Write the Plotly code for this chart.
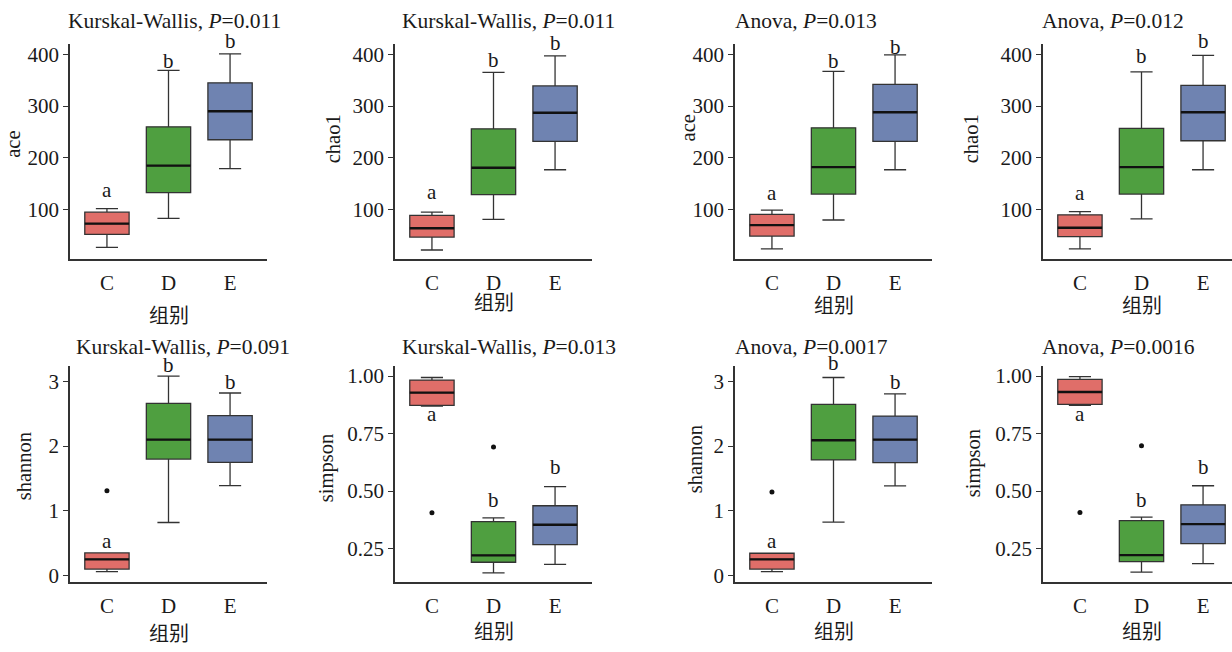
import plotly.graph_objects as go

groups = ["C", "D", "E"]

# ---- Panel 1: ace (Kruskal-Wallis)
ace_kw_low = [27, 83, 179]
ace_kw_q1 = [52, 133, 235]
ace_kw_med = [73, 185, 290]
ace_kw_q3 = [95, 260, 345]
ace_kw_high = [102, 369, 401]
ace_kw_letters = ["a", "b", "b"]
ace_kw_letter_y = [124, 373, 413]

# ---- Panel 2: chao1 (Kruskal-Wallis)
chao1_kw_low = [22, 81, 177]
chao1_kw_q1 = [47, 129, 232]
chao1_kw_med = [64, 181, 287]
chao1_kw_q3 = [89, 256, 339]
chao1_kw_high = [95, 365, 397]
chao1_kw_letters = ["a", "b", "b"]
chao1_kw_letter_y = [120, 375, 408]

# ---- Panel 3: ace (Anova)
ace_an_low = [24, 80, 177]
ace_an_q1 = [49, 130, 232]
ace_an_med = [70, 182, 288]
ace_an_q3 = [91, 258, 342]
ace_an_high = [99, 367, 399]
ace_an_letters = ["a", "b", "b"]
ace_an_letter_y = [118, 374, 400]

# ---- Panel 4: chao1 (Anova)
chao1_an_low = [24, 82, 177]
chao1_an_q1 = [48, 130, 233]
chao1_an_med = [65, 182, 288]
chao1_an_q3 = [90, 257, 340]
chao1_an_high = [96, 366, 398]
chao1_an_letters = ["a", "b", "b"]
chao1_an_letter_y = [118, 384, 413]

# ---- Panel 5: shannon (Kruskal-Wallis)
shannon_kw_low = [0.06, 0.82, 1.39]
shannon_kw_q1 = [0.10, 1.80, 1.75]
shannon_kw_med = [0.25, 2.10, 2.10]
shannon_kw_q3 = [0.35, 2.66, 2.47]
shannon_kw_high = [0.35, 3.08, 2.82]
shannon_kw_out_x = ["C"]
shannon_kw_out_y = [1.31]
shannon_kw_letters = ["a", "b", "b"]
shannon_kw_letter_y = [0.42, 3.15, 2.88]

# ---- Panel 6: simpson (Kruskal-Wallis)
simpson_kw_low = [0.870, 0.144, 0.181]
simpson_kw_q1 = [0.873, 0.190, 0.267]
simpson_kw_med = [0.928, 0.220, 0.353]
simpson_kw_q3 = [0.983, 0.367, 0.436]
simpson_kw_high = [0.994, 0.383, 0.519]
simpson_kw_out_x = ["C", "D"]
simpson_kw_out_y = [0.405, 0.692]
simpson_kw_letters = ["a", "b", "b"]
simpson_kw_letter_y = [0.804, 0.429, 0.572]

# ---- Panel 7: shannon (Anova)
shannon_an_low = [0.06, 0.825, 1.387]
shannon_an_q1 = [0.10, 1.786, 1.745]
shannon_an_med = [0.25, 2.09, 2.10]
shannon_an_q3 = [0.345, 2.646, 2.464]
shannon_an_high = [0.345, 3.06, 2.807]
shannon_an_out_x = ["C"]
shannon_an_out_y = [1.29]
shannon_an_letters = ["a", "b", "b"]
shannon_an_letter_y = [0.42, 3.17, 2.88]

# ---- Panel 8: simpson (Anova)
simpson_an_low = [0.873, 0.147, 0.184]
simpson_an_q1 = [0.877, 0.193, 0.271]
simpson_an_med = [0.931, 0.221, 0.356]
simpson_an_q3 = [0.986, 0.371, 0.440]
simpson_an_high = [0.998, 0.386, 0.523]
simpson_an_out_x = ["C", "D"]
simpson_an_out_y = [0.407, 0.697]
simpson_an_letters = ["a", "b", "b"]
simpson_an_letter_y = [0.805, 0.429, 0.572]

titles = [
    "Kurskal-Wallis, <i>P</i>=0.011", "Kurskal-Wallis, <i>P</i>=0.011",
    "Anova, <i>P</i>=0.013", "Anova, <i>P</i>=0.012",
    "Kurskal-Wallis, <i>P</i>=0.091", "Kurskal-Wallis, <i>P</i>=0.013",
    "Anova, <i>P</i>=0.0017", "Anova, <i>P</i>=0.0016",
]
ylabels = ["ace", "chao1", "ace", "chao1", "shannon", "simpson", "shannon", "simpson"]
xlabel = "组别"

y_ticks_rich = [100, 200, 300, 400]
y_ticks_shannon = [0, 1, 2, 3]
y_ticks_simpson = [0.25, 0.50, 0.75, 1.00]

fills = ["#E06E69", "#4F9F40", "#6F83B1"]

panels = [
    dict(low=ace_kw_low, q1=ace_kw_q1, med=ace_kw_med, q3=ace_kw_q3, high=ace_kw_high,
         ox=[], oy=[], let=ace_kw_letters, ly=ace_kw_letter_y, ticks=y_ticks_rich, fmt="d", yr=[5, 419]),
    dict(low=chao1_kw_low, q1=chao1_kw_q1, med=chao1_kw_med, q3=chao1_kw_q3, high=chao1_kw_high,
         ox=[], oy=[], let=chao1_kw_letters, ly=chao1_kw_letter_y, ticks=y_ticks_rich, fmt="d", yr=[5, 419]),
    dict(low=ace_an_low, q1=ace_an_q1, med=ace_an_med, q3=ace_an_q3, high=ace_an_high,
         ox=[], oy=[], let=ace_an_letters, ly=ace_an_letter_y, ticks=y_ticks_rich, fmt="d", yr=[5, 419]),
    dict(low=chao1_an_low, q1=chao1_an_q1, med=chao1_an_med, q3=chao1_an_q3, high=chao1_an_high,
         ox=[], oy=[], let=chao1_an_letters, ly=chao1_an_letter_y, ticks=y_ticks_rich, fmt="d", yr=[5, 419]),
    dict(low=shannon_kw_low, q1=shannon_kw_q1, med=shannon_kw_med, q3=shannon_kw_q3, high=shannon_kw_high,
         ox=shannon_kw_out_x, oy=shannon_kw_out_y, let=shannon_kw_letters, ly=shannon_kw_letter_y,
         ticks=y_ticks_shannon, fmt="d", yr=[-0.096, 3.23]),
    dict(low=simpson_kw_low, q1=simpson_kw_q1, med=simpson_kw_med, q3=simpson_kw_q3, high=simpson_kw_high,
         ox=simpson_kw_out_x, oy=simpson_kw_out_y, let=simpson_kw_letters, ly=simpson_kw_letter_y,
         ticks=y_ticks_simpson, fmt=".2f", yr=[0.105, 1.042]),
    dict(low=shannon_an_low, q1=shannon_an_q1, med=shannon_an_med, q3=shannon_an_q3, high=shannon_an_high,
         ox=shannon_an_out_x, oy=shannon_an_out_y, let=shannon_an_letters, ly=shannon_an_letter_y,
         ticks=y_ticks_shannon, fmt="d", yr=[-0.096, 3.23]),
    dict(low=simpson_an_low, q1=simpson_an_q1, med=simpson_an_med, q3=simpson_an_q3, high=simpson_an_high,
         ox=simpson_an_out_x, oy=simpson_an_out_y, let=simpson_an_letters, ly=simpson_an_letter_y,
         ticks=y_ticks_simpson, fmt=".2f", yr=[0.105, 1.042]),
]

W, H = 1232, 652
col_left = [70, 395, 735, 1043]
plot_w = 197
unit_px = plot_w / 3.2
row_top = [43, 369]
row_bot = [260, 587]

title_x = [66, 400, 733, 1040, 74, 400, 733, 1040]
title_y = [19, 19, 19, 19, 349, 349, 349, 349]
ylab_x = [13.5, 333, 688, 971, 24, 326, 695, 973]
ylab_y = [144, 139, 128, 139, 470, 472, 463, 467]
xlab_y = [318, 305, 308, 308, 640, 638, 638, 638]

SERIF = "Liberation Serif, Times New Roman, serif"
CJK = "Liberation Serif, Noto Sans CJK SC, sans-serif"
TXT = "#1a1a1a"
AX = "#333333"

fig = go.Figure()
layout = dict(width=W, height=H, margin=dict(l=0, r=0, t=0, b=0),
              paper_bgcolor="white", plot_bgcolor="white", showlegend=False)
annotations = []

for k, p in enumerate(panels):
    n = k + 1
    r, c = divmod(k, 4)
    xa = "x" if n == 1 else f"x{n}"
    ya = "y" if n == 1 else f"y{n}"
    x0 = col_left[c]
    x1 = min(x0 + plot_w, W)
    xmax = -0.6 + (x1 - x0) / unit_px
    layout["xaxis" if n == 1 else f"xaxis{n}"] = dict(
        domain=[x0 / W, x1 / W], anchor=ya, range=[-0.6, xmax],
        tickvals=[0, 1, 2], ticktext=groups, ticks="outside", ticklen=4,
        tickcolor="rgba(0,0,0,0)", showline=True, linecolor=AX, linewidth=1.5,
        showgrid=False, zeroline=False, tickfont=dict(family=SERIF, size=21, color=TXT))
    layout["yaxis" if n == 1 else f"yaxis{n}"] = dict(
        domain=[1 - row_bot[r] / H, 1 - row_top[r] / H], anchor=xa, range=p["yr"],
        tickvals=p["ticks"], tickformat=p["fmt"], ticks="outside", ticklen=5, tickwidth=1.3,
        tickcolor=AX, showline=True, linecolor=AX, linewidth=1.5, showgrid=False,
        zeroline=False, tickfont=dict(family=SERIF, size=21, color=TXT))

    for i, g in enumerate(groups):
        fig.add_trace(go.Box(
            x=[i], q1=[p["q1"][i]], median=[p["med"][i]], q3=[p["q3"][i]],
            lowerfence=[p["low"][i]], upperfence=[p["high"][i]],
            width=0.72, whiskerwidth=0.5, fillcolor=fills[i],
            line=dict(color=AX, width=1.3), boxpoints=False,
            xaxis=xa, yaxis=ya, name=g))
        fig.add_trace(go.Scatter(
            x=[i - 0.36, i + 0.36], y=[p["med"][i], p["med"][i]], mode="lines",
            line=dict(color="#111111", width=2.4), xaxis=xa, yaxis=ya, hoverinfo="skip"))
        annotations.append(dict(
            x=i, y=p["ly"][i], xref=xa, yref=ya, text=p["let"][i], showarrow=False,
            yanchor="middle", yshift=7, font=dict(family=SERIF, size=21, color=TXT)))
    if p["ox"]:
        fig.add_trace(go.Scatter(
            x=[groups.index(g) for g in p["ox"]], y=p["oy"], mode="markers",
            marker=dict(color="#111111", size=5), xaxis=xa, yaxis=ya))

    annotations.append(dict(
        x=title_x[k] / W, y=1 - title_y[k] / H, xref="paper", yref="paper",
        text=titles[k], showarrow=False, xanchor="left", yanchor="middle",
        font=dict(family=SERIF, size=21.5, color=TXT)))
    annotations.append(dict(
        x=ylab_x[k] / W, y=1 - ylab_y[k] / H, xref="paper", yref="paper",
        text=ylabels[k], showarrow=False, textangle=-90, xanchor="center", yanchor="middle",
        font=dict(family=SERIF, size=20.5, color=TXT)))
    annotations.append(dict(
        x=(x0 + plot_w / 2) / W, y=1 - xlab_y[k] / H, xref="paper", yref="paper",
        text=xlabel, showarrow=False, xanchor="center", yanchor="middle",
        font=dict(family=CJK, size=20, color=TXT)))

layout["annotations"] = annotations
fig.update_layout(**layout)
fig.write_html("out.html", config={"displayModeBar": False},
               post_script="document.body.style.margin='0';document.body.style.overflow='hidden';")
